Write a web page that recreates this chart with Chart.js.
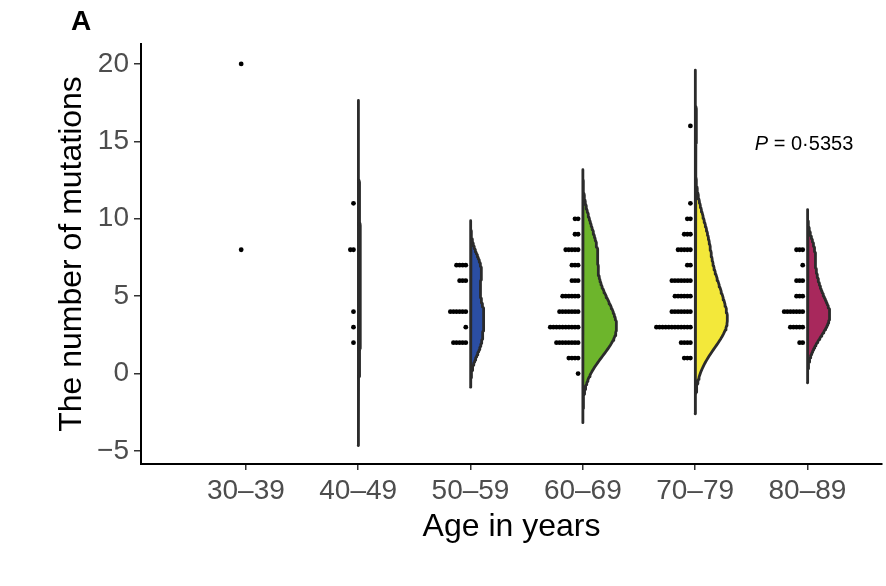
<!DOCTYPE html>
<html>
<head>
<meta charset="utf-8">
<script src="https://cdn.jsdelivr.net/npm/chart.js@4.4.1/dist/chart.umd.min.js"></script>
<style>
  html, body { margin: 0; padding: 0; background: #fff; }
  #wrap { position: relative; width: 886px; height: 586px; }
</style>
</head>
<body>
<div id="wrap"><canvas id="chart" width="886" height="586"></canvas></div>
<script>
// categories and tick labels
const ageGroups = ['30–39', '40–49', '50–59', '60–69', '70–79', '80–89'];
const yTicks = [-5, 0, 5, 10, 15, 20];

// number of mutations (value) and how many patients had it (count), per age group
const values30 = [20, 8];
const counts30 = [1, 1];
const values40 = [11, 8, 4, 3, 2];
const counts40 = [1, 2, 1, 1, 1];
const values50 = [7, 6, 4, 3, 2];
const counts50 = [4, 3, 6, 1, 5];
const values60 = [10, 9, 8, 7, 6, 5, 4, 3, 2, 1, 0];
const counts60 = [2, 2, 5, 3, 3, 6, 7, 10, 8, 4, 1];
const values70 = [16, 11, 10, 9, 8, 7, 6, 5, 4, 3, 2, 1];
const counts70 = [1, 1, 2, 3, 5, 2, 7, 6, 7, 12, 4, 3];
const values80 = [8, 7, 6, 5, 4, 3, 2];
const counts80 = [3, 1, 3, 3, 7, 5, 2];

const pText = '0·5353';

const groups = [
    { values: values30, counts: counts30, color: null },
    { values: values40, counts: counts40, color: '#3a3a3a' },
    { values: values50, counts: counts50, color: '#2b4ea3' },
    { values: values60, counts: counts60, color: '#6db52c' },
    { values: values70, counts: counts70, color: '#f3e83a' },
    { values: values80, counts: counts80, color: '#a8285c' }
];

// dot stacking (in x units) and violin half width
const dotFirst = 0.042;
const dotStep = 0.0275;
const violinMax = 0.3;

function expand(g) {
    const out = [];
    g.values.forEach((v, i) => { for (let k = 0; k < g.counts[i]; k++) out.push(v); });
    return out;
}

// R's bw.nrd0
function bwNrd0(xs) {
    const n = xs.length;
    const mean = xs.reduce((a, b) => a + b, 0) / n;
    const sd = Math.sqrt(xs.reduce((a, b) => a + (b - mean) ** 2, 0) / (n - 1));
    const s = xs.slice().sort((a, b) => a - b);
    const q = p => {
        const h = (n - 1) * p, lo = Math.floor(h);
        return s[lo] + (h - lo) * (s[Math.min(lo + 1, n - 1)] - s[lo]);
    };
    let lo = Math.min(sd, (q(0.75) - q(0.25)) / 1.34);
    if (!(lo > 0)) lo = sd || 1;
    return 0.9 * lo * Math.pow(n, -0.2);
}

// density * n on a grid (scale = "count")
function violinCurve(g) {
    const xs = expand(g);
    const bw = bwNrd0(xs);
    const lo = Math.min(...xs) - 3 * bw, hi = Math.max(...xs) + 3 * bw;
    const pts = [];
    for (let j = 0; j <= 160; j++) {
        const y = lo + (hi - lo) * j / 160;
        let d = 0;
        g.values.forEach((v, i) => {
            const z = (y - v) / bw;
            d += g.counts[i] * Math.exp(-0.5 * z * z) / (bw * Math.sqrt(2 * Math.PI));
        });
        pts.push({ y: y, d: d });
    }
    return pts;
}

const curves = groups.map(g => g.color ? violinCurve(g) : null);
const maxD = Math.max(...curves.filter(c => c).map(c => Math.max(...c.map(p => p.d))));

const datasets = [];

groups.forEach((g, i) => {
    const c = curves[i];
    if (!c) return;
    const poly = [{ x: i, y: c[0].y }];
    c.forEach(p => poly.push({ x: i + violinMax * p.d / maxD, y: p.y }));
    poly.push({ x: i, y: c[c.length - 1].y });
    poly.push({ x: i, y: c[0].y });
    datasets.push({
        data: poly,
        showLine: true,
        fill: 'shape',
        backgroundColor: g.color,
        borderColor: '#2b2b2b',
        borderWidth: 2.8,
        borderJoinStyle: 'round',
        borderCapStyle: 'round',
        pointRadius: 0,
        tension: 0,
        order: 2
    });
});

const dots = [];
groups.forEach((g, i) => {
    g.values.forEach((v, j) => {
        for (let k = 0; k < g.counts[j]; k++) {
            dots.push({ x: i - dotFirst - k * dotStep, y: v });
        }
    });
});
datasets.push({
    data: dots,
    pointRadius: 2.4,
    pointBackgroundColor: '#000',
    pointBorderWidth: 0,
    showLine: false,
    order: 1
});

const labels = {
    id: 'labels',
    afterDraw(chart) {
        const { ctx, scales: { x, y } } = chart;
        ctx.save();
        ctx.fillStyle = '#000';
        ctx.textBaseline = 'middle';
        ctx.font = 'bold 28px "Liberation Sans", Arial, sans-serif';
        ctx.textAlign = 'center';
        ctx.fillText('A', 81, 22);

        const cx = x.getPixelForValue(4.97);
        const cy = y.getPixelForValue(14.8);
        const fItal = 'italic 20px "Liberation Sans", Arial, sans-serif';
        const fNorm = '20px "Liberation Sans", Arial, sans-serif';
        ctx.font = fItal;
        const w1 = ctx.measureText('P').width;
        ctx.font = fNorm;
        const rest = ' = ' + pText;
        const w2 = ctx.measureText(rest).width;
        let px = cx - (w1 + w2) / 2;
        ctx.textAlign = 'left';
        ctx.font = fItal;
        ctx.fillText('P', px, cy);
        ctx.font = fNorm;
        ctx.fillText(rest, px + w1, cy);
        ctx.restore();
    }
};

const tickFont = { family: '"Liberation Sans", Arial, sans-serif', size: 28 };
const titleFont = { family: '"Liberation Sans", Arial, sans-serif', size: 32 };

new Chart(document.getElementById('chart'), {
    type: 'scatter',
    data: { datasets: datasets },
    options: {
        responsive: false,
        animation: false,
        layout: { padding: { top: 44, right: 0, bottom: 0, left: 0 } },
        plugins: { legend: { display: false }, tooltip: { enabled: false } },
        scales: {
            x: {
                type: 'linear',
                min: -0.934,
                max: 5.664,
                afterBuildTicks: s => { s.ticks = ageGroups.map((_, i) => ({ value: i })); },
                afterFit: s => { s.height = 122; },
                ticks: {
                    callback: v => ageGroups[v],
                    font: tickFont,
                    color: '#4d4d4d',
                    padding: 4,
                    maxRotation: 0,
                    autoSkip: false
                },
                grid: { drawOnChartArea: false, drawTicks: true, tickLength: 6, color: '#333', lineWidth: 1.5 },
                border: { display: true, color: '#000', width: 2 },
                title: { display: true, text: 'Age in years', font: titleFont, color: '#000', padding: { top: 0, bottom: 40 } }
            },
            y: {
                min: -5.84,
                max: 21.29,
                afterBuildTicks: s => { s.ticks = yTicks.map(v => ({ value: v })); },
                afterFit: s => { s.width = 141; },
                ticks: {
                    callback: v => (v < 0 ? '−' + Math.abs(v) : String(v)),
                    font: tickFont,
                    color: '#4d4d4d',
                    padding: 5
                },
                grid: { drawOnChartArea: false, drawTicks: true, tickLength: 7, color: '#333', lineWidth: 1.5 },
                border: { display: true, color: '#000', width: 2 },
                title: { display: true, text: 'The number of mutations', font: titleFont, color: '#000', padding: { top: 53, bottom: 0 } }
            }
        }
    },
    plugins: [labels]
});
</script>
</body>
</html>
